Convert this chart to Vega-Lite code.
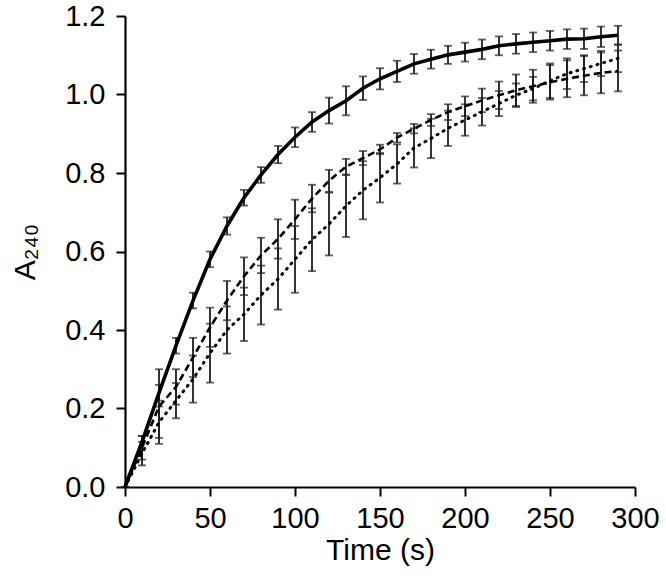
{
  "$schema": "https://vega.github.io/schema/vega-lite/v6.json",
  "width": 510,
  "height": 471,
  "autosize": "none",
  "padding": {"left": 125, "top": 16, "right": 31, "bottom": 97},
  "background": "white",
  "config": {
    "view": {"stroke": null},
    "font": "Liberation Sans",
    "axis": {
      "grid": false,
      "domainColor": "black",
      "domainWidth": 2.2,
      "tickColor": "black",
      "tickWidth": 2,
      "tickSize": 9,
      "labelFont": "Liberation Sans",
      "labelFontSize": 29,
      "labelColor": "black",
      "titleFont": "Liberation Sans",
      "titleFontSize": 30,
      "titleFontWeight": "normal",
      "titleColor": "black"
    }
  },
  "data": {
    "values": [
      {"t": 0, "s": "solid", "y": 0, "e": 0},
      {"t": 10, "s": "solid", "y": 0.115, "e": 0.015},
      {"t": 20, "s": "solid", "y": 0.24, "e": 0.02},
      {"t": 30, "s": "solid", "y": 0.36, "e": 0.02},
      {"t": 40, "s": "solid", "y": 0.475, "e": 0.02},
      {"t": 50, "s": "solid", "y": 0.58, "e": 0.02},
      {"t": 60, "s": "solid", "y": 0.665, "e": 0.022},
      {"t": 70, "s": "solid", "y": 0.737, "e": 0.02},
      {"t": 80, "s": "solid", "y": 0.795, "e": 0.02},
      {"t": 90, "s": "solid", "y": 0.847, "e": 0.022},
      {"t": 100, "s": "solid", "y": 0.891, "e": 0.025},
      {"t": 110, "s": "solid", "y": 0.93, "e": 0.025},
      {"t": 120, "s": "solid", "y": 0.959, "e": 0.033},
      {"t": 130, "s": "solid", "y": 0.984, "e": 0.037},
      {"t": 140, "s": "solid", "y": 1.016, "e": 0.03},
      {"t": 150, "s": "solid", "y": 1.04, "e": 0.027},
      {"t": 160, "s": "solid", "y": 1.059, "e": 0.027},
      {"t": 170, "s": "solid", "y": 1.078, "e": 0.025},
      {"t": 180, "s": "solid", "y": 1.09, "e": 0.024},
      {"t": 190, "s": "solid", "y": 1.101, "e": 0.023},
      {"t": 200, "s": "solid", "y": 1.108, "e": 0.024},
      {"t": 210, "s": "solid", "y": 1.115, "e": 0.025},
      {"t": 220, "s": "solid", "y": 1.124, "e": 0.024},
      {"t": 230, "s": "solid", "y": 1.129, "e": 0.025},
      {"t": 240, "s": "solid", "y": 1.133, "e": 0.025},
      {"t": 250, "s": "solid", "y": 1.137, "e": 0.025},
      {"t": 260, "s": "solid", "y": 1.141, "e": 0.025},
      {"t": 270, "s": "solid", "y": 1.142, "e": 0.026},
      {"t": 280, "s": "solid", "y": 1.147, "e": 0.026},
      {"t": 290, "s": "solid", "y": 1.151, "e": 0.024},
      {"t": 0, "s": "dashed", "y": 0, "e": 0},
      {"t": 10, "s": "dashed", "y": 0.1, "e": 0.03},
      {"t": 20, "s": "dashed", "y": 0.205, "e": 0.095},
      {"t": 30, "s": "dashed", "y": 0.255, "e": 0.045},
      {"t": 40, "s": "dashed", "y": 0.33, "e": 0.05},
      {"t": 50, "s": "dashed", "y": 0.407, "e": 0.05},
      {"t": 60, "s": "dashed", "y": 0.475, "e": 0.05},
      {"t": 70, "s": "dashed", "y": 0.537, "e": 0.048},
      {"t": 80, "s": "dashed", "y": 0.59, "e": 0.045},
      {"t": 90, "s": "dashed", "y": 0.632, "e": 0.05},
      {"t": 100, "s": "dashed", "y": 0.682, "e": 0.05},
      {"t": 110, "s": "dashed", "y": 0.735, "e": 0.035},
      {"t": 120, "s": "dashed", "y": 0.78, "e": 0.028},
      {"t": 130, "s": "dashed", "y": 0.816, "e": 0.02},
      {"t": 140, "s": "dashed", "y": 0.838, "e": 0.018},
      {"t": 150, "s": "dashed", "y": 0.86, "e": 0.012},
      {"t": 160, "s": "dashed", "y": 0.89, "e": 0.012},
      {"t": 170, "s": "dashed", "y": 0.913, "e": 0.012},
      {"t": 180, "s": "dashed", "y": 0.935, "e": 0.015},
      {"t": 190, "s": "dashed", "y": 0.955, "e": 0.02},
      {"t": 200, "s": "dashed", "y": 0.97, "e": 0.025},
      {"t": 210, "s": "dashed", "y": 0.985, "e": 0.03},
      {"t": 220, "s": "dashed", "y": 0.998, "e": 0.035},
      {"t": 230, "s": "dashed", "y": 1.011, "e": 0.04},
      {"t": 240, "s": "dashed", "y": 1.021, "e": 0.042},
      {"t": 250, "s": "dashed", "y": 1.031, "e": 0.044},
      {"t": 260, "s": "dashed", "y": 1.04, "e": 0.047},
      {"t": 270, "s": "dashed", "y": 1.048, "e": 0.05},
      {"t": 280, "s": "dashed", "y": 1.055, "e": 0.052},
      {"t": 290, "s": "dashed", "y": 1.06, "e": 0.052},
      {"t": 0, "s": "dotted", "y": 0, "e": 0},
      {"t": 10, "s": "dotted", "y": 0.085, "e": 0.03},
      {"t": 20, "s": "dotted", "y": 0.165, "e": 0.04},
      {"t": 30, "s": "dotted", "y": 0.22, "e": 0.045},
      {"t": 40, "s": "dotted", "y": 0.275, "e": 0.06},
      {"t": 50, "s": "dotted", "y": 0.341, "e": 0.075},
      {"t": 60, "s": "dotted", "y": 0.4, "e": 0.06},
      {"t": 70, "s": "dotted", "y": 0.44, "e": 0.068},
      {"t": 80, "s": "dotted", "y": 0.489, "e": 0.075},
      {"t": 90, "s": "dotted", "y": 0.53, "e": 0.078},
      {"t": 100, "s": "dotted", "y": 0.58, "e": 0.085},
      {"t": 110, "s": "dotted", "y": 0.63, "e": 0.08},
      {"t": 120, "s": "dotted", "y": 0.67, "e": 0.08},
      {"t": 130, "s": "dotted", "y": 0.716, "e": 0.079},
      {"t": 140, "s": "dotted", "y": 0.756, "e": 0.074},
      {"t": 150, "s": "dotted", "y": 0.788, "e": 0.063},
      {"t": 160, "s": "dotted", "y": 0.823, "e": 0.05},
      {"t": 170, "s": "dotted", "y": 0.864, "e": 0.05},
      {"t": 180, "s": "dotted", "y": 0.888, "e": 0.05},
      {"t": 190, "s": "dotted", "y": 0.914, "e": 0.045},
      {"t": 200, "s": "dotted", "y": 0.935, "e": 0.04},
      {"t": 210, "s": "dotted", "y": 0.956, "e": 0.035},
      {"t": 220, "s": "dotted", "y": 0.977, "e": 0.032},
      {"t": 230, "s": "dotted", "y": 0.998, "e": 0.03},
      {"t": 240, "s": "dotted", "y": 1.015, "e": 0.03},
      {"t": 250, "s": "dotted", "y": 1.035, "e": 0.044},
      {"t": 260, "s": "dotted", "y": 1.053, "e": 0.039},
      {"t": 270, "s": "dotted", "y": 1.066, "e": 0.034},
      {"t": 280, "s": "dotted", "y": 1.079, "e": 0.032},
      {"t": 290, "s": "dotted", "y": 1.092, "e": 0.035}
    ]
  },
  "layer": [
    {
      "mark": {"type": "errorbar", "ticks": {"size": 8, "thickness": 1.8, "color": "#1e1e1e"}, "thickness": 1.8, "color": "#1e1e1e"},
      "encoding": {
        "x": {"field": "t", "type": "quantitative", "scale": {"domain": [0, 300]},
              "axis": {"values": [0, 50, 100, 150, 200, 250, 300], "title": "Time (s)", "labelPadding": 8, "titlePadding": 2, "labelFlush": false}},
        "y": {"field": "y", "type": "quantitative", "scale": {"domain": [0, 1.2]},
              "axis": {"values": [0, 0.2, 0.4, 0.6, 0.8, 1.0, 1.2], "format": ".1f", "title": "A₂₄₀", "labelPadding": 11, "titlePadding": 24}},
        "yError": {"field": "e"},
        "detail": {"field": "s"}
      }
    },
    {
      "transform": [{"filter": "datum.s === 'dotted'"}],
      "mark": {"type": "line", "color": "black", "strokeWidth": 3, "strokeDash": [1, 6], "strokeCap": "round"},
      "encoding": {"x": {"field": "t", "type": "quantitative"}, "y": {"field": "y", "type": "quantitative"}}
    },
    {
      "transform": [{"filter": "datum.s === 'dashed'"}],
      "mark": {"type": "line", "color": "black", "strokeWidth": 2.6, "strokeDash": [7, 4]},
      "encoding": {"x": {"field": "t", "type": "quantitative"}, "y": {"field": "y", "type": "quantitative"}}
    },
    {
      "transform": [{"filter": "datum.s === 'solid'"}],
      "mark": {"type": "line", "color": "black", "strokeWidth": 3.6},
      "encoding": {"x": {"field": "t", "type": "quantitative"}, "y": {"field": "y", "type": "quantitative"}}
    }
  ]
}
